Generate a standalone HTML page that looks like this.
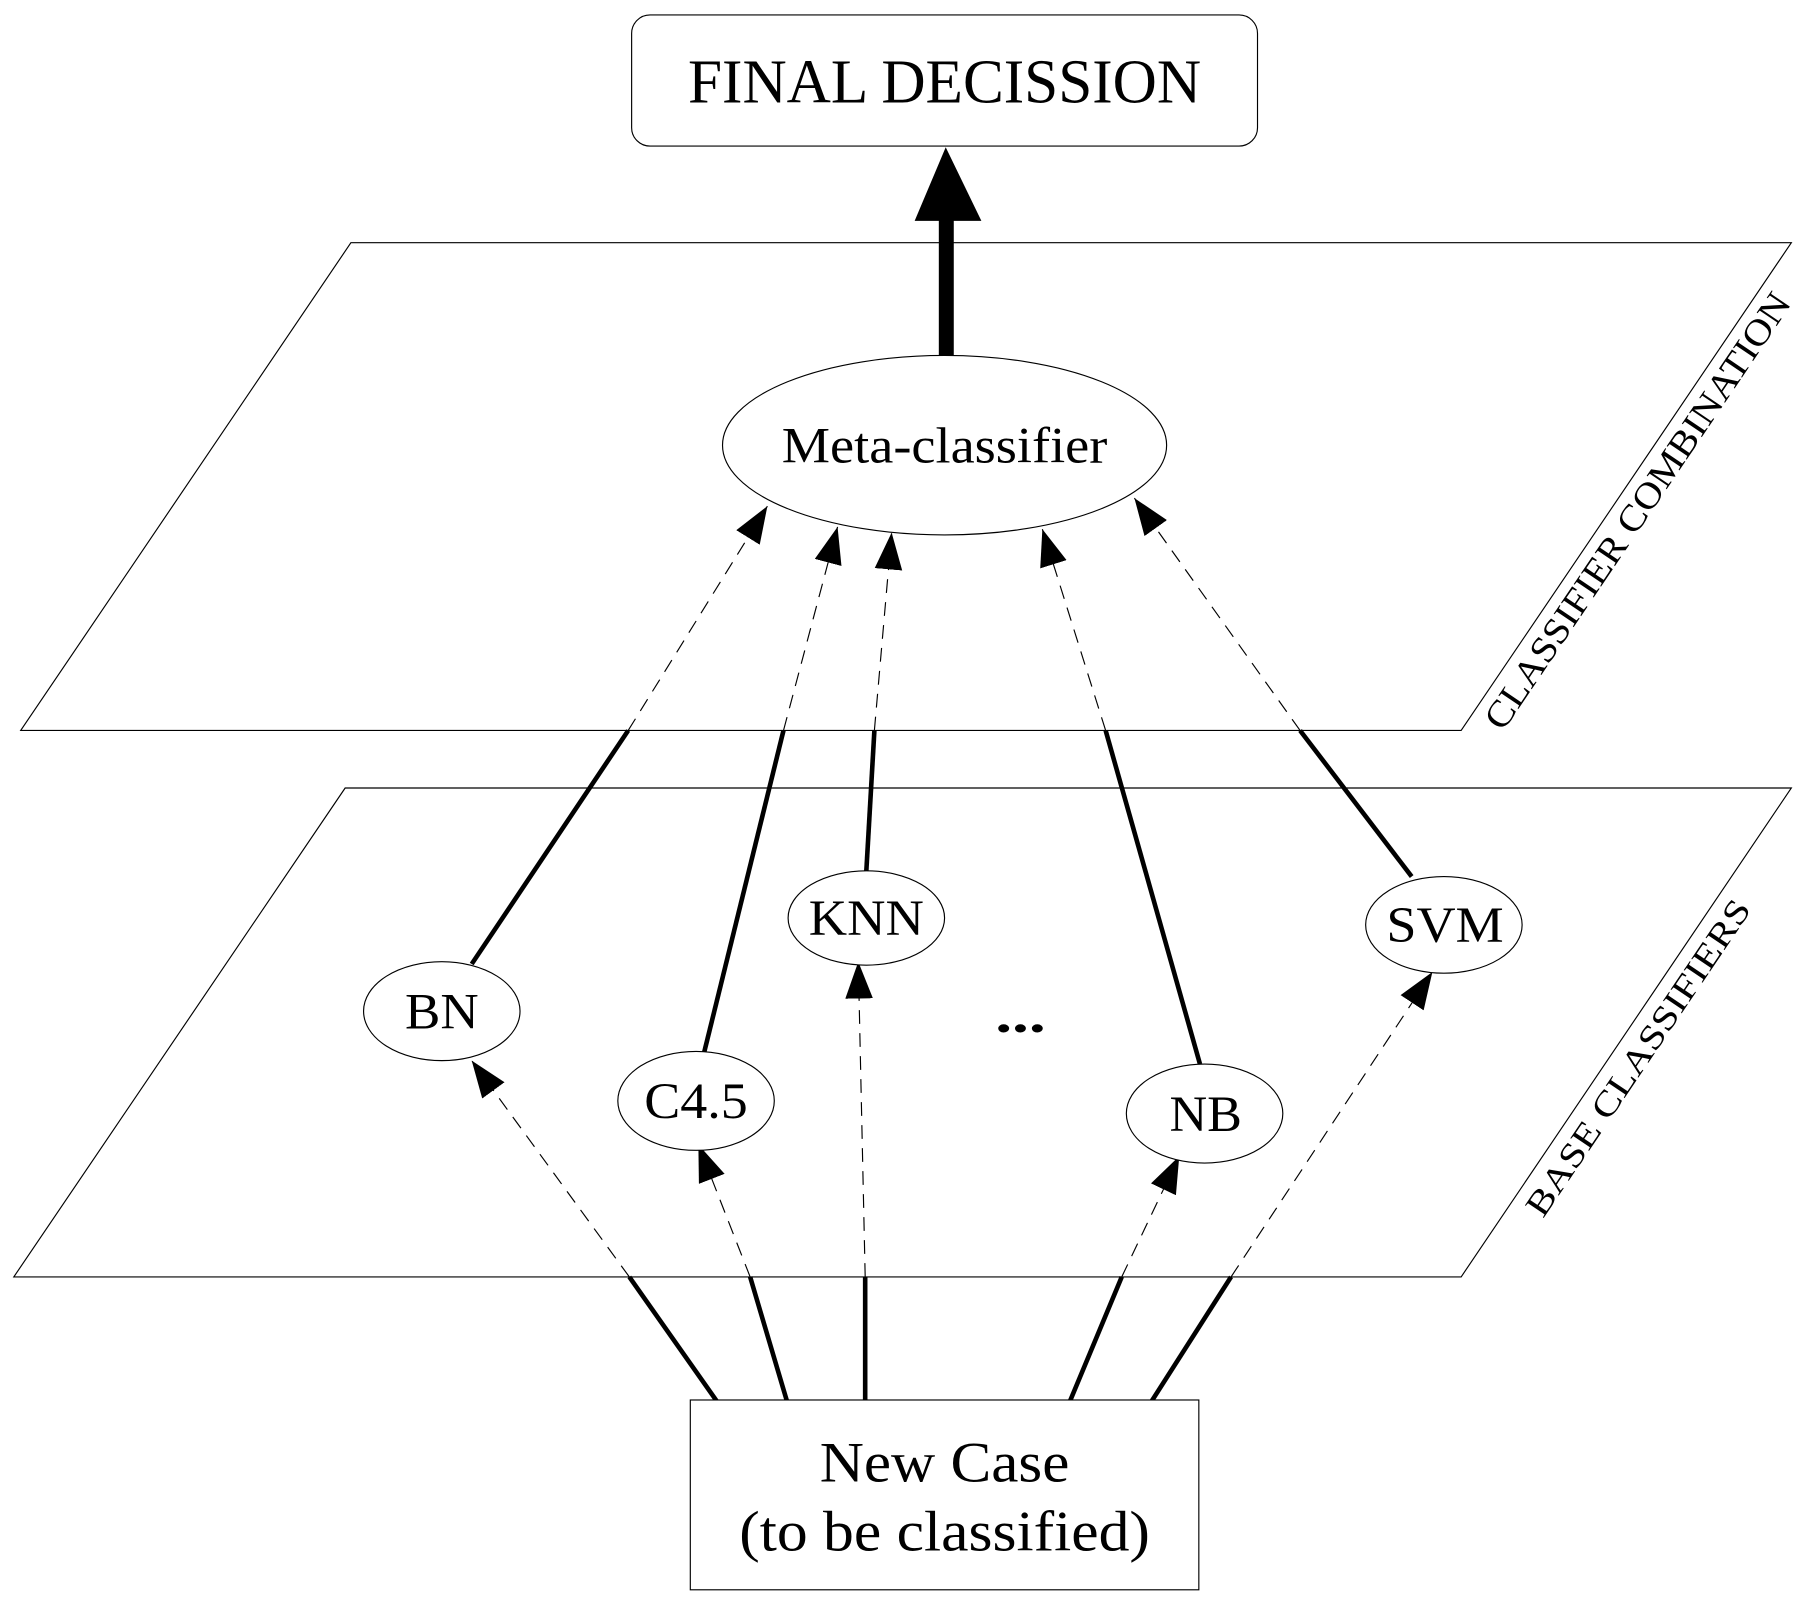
<!DOCTYPE html>
<html><head><meta charset="utf-8"><style>
html,body{margin:0;padding:0;background:#fff;}
svg{display:block;}
text{font-family:"Liberation Serif",serif;fill:#000;}
</style></head><body>
<svg width="1804" height="1599" viewBox="0 0 1568 1390" preserveAspectRatio="none" xmlns="http://www.w3.org/2000/svg">
<defs>
<marker id="ah" markerUnits="userSpaceOnUse" markerWidth="34" markerHeight="26" refX="32" refY="12" orient="auto">
<path d="M0,0 L32,12 L0,24 Z" fill="#000"/>
</marker>
</defs>
<rect width="1568" height="1390" fill="#fff"/>
<rect x="549" y="13" width="544" height="114" rx="16" fill="none" stroke="#000" stroke-width="1"/>
<text x="821" y="89" font-size="54" text-anchor="middle" textLength="446" lengthAdjust="spacingAndGlyphs">FINAL DECISSION</text>
<rect x="816" y="188" width="13" height="124" fill="#000"/>
<path d="M822,128 L853,192 L795,192 Z" fill="#000"/>
<path d="M305,211 L1557,211 L1270,635 L18,635 Z" fill="none" stroke="#000" stroke-width="1"/>
<path d="M300,685 L1557,685 L1270,1110 L12,1110 Z" fill="none" stroke="#000" stroke-width="1"/>
<text transform="translate(1432,450) rotate(-56)" font-size="32" text-anchor="middle" textLength="450" lengthAdjust="spacingAndGlyphs">CLASSIFIER COMBINATION</text>
<text transform="translate(1432,925) rotate(-56)" font-size="30" text-anchor="middle" textLength="325" lengthAdjust="spacingAndGlyphs">BASE CLASSIFIERS</text>
<ellipse cx="821" cy="387" rx="193" ry="78" fill="#fff" stroke="#000" stroke-width="1"/>
<text x="821" y="402" font-size="44" text-anchor="middle" textLength="283" lengthAdjust="spacingAndGlyphs">Meta-classifier</text>
<g stroke="#000" stroke-width="4" fill="none">
<line x1="623" y1="1218" x2="547" y2="1110"/>
<line x1="684" y1="1218" x2="652" y2="1110"/>
<line x1="752" y1="1218" x2="752" y2="1110"/>
<line x1="930" y1="1218" x2="975" y2="1110"/>
<line x1="1001" y1="1218" x2="1070" y2="1110"/>
<line x1="410" y1="838" x2="546" y2="635"/>
<line x1="612" y1="915" x2="681" y2="635"/>
<line x1="753" y1="757" x2="760" y2="635"/>
<line x1="1043" y1="925" x2="961" y2="635"/>
<line x1="1227" y1="762" x2="1130" y2="635"/>
</g>
<g stroke="#000" stroke-width="1" fill="none" stroke-dasharray="12 8" marker-end="url(#ah)">
<line x1="547" y1="1110" x2="410" y2="922"/>
<line x1="652" y1="1110" x2="607" y2="995"/>
<line x1="752" y1="1110" x2="746" y2="836"/>
<line x1="975" y1="1110" x2="1025" y2="1005"/>
<line x1="1070" y1="1110" x2="1245" y2="845"/>
<line x1="546" y1="635" x2="667" y2="440"/>
<line x1="681" y1="635" x2="728" y2="458"/>
<line x1="760" y1="635" x2="775" y2="463"/>
<line x1="961" y1="635" x2="906" y2="460"/>
<line x1="1130" y1="635" x2="986" y2="433"/>
</g>
<g fill="#fff" stroke="#000" stroke-width="1">
<ellipse cx="384" cy="879" rx="68" ry="43"/>
<ellipse cx="753" cy="798" rx="68" ry="41"/>
<ellipse cx="1255" cy="804" rx="68" ry="42"/>
<ellipse cx="605" cy="957" rx="68" ry="43"/>
<ellipse cx="1047" cy="968" rx="68" ry="43"/>
</g>
<g font-size="44" text-anchor="middle">
<text x="384" y="894" textLength="64" lengthAdjust="spacingAndGlyphs">BN</text>
<text x="753" y="813" textLength="100" lengthAdjust="spacingAndGlyphs">KNN</text>
<text x="1256" y="819" textLength="102" lengthAdjust="spacingAndGlyphs">SVM</text>
<text x="605" y="972" textLength="90" lengthAdjust="spacingAndGlyphs">C4.5</text>
<text x="1048" y="983" textLength="63" lengthAdjust="spacingAndGlyphs">NB</text>
<text x="887" y="897" font-weight="bold" textLength="44" lengthAdjust="spacingAndGlyphs">...</text>
</g>
<rect x="600" y="1217" width="442" height="165" fill="#fff" stroke="#000" stroke-width="1"/>
<text x="821" y="1288" font-size="50" text-anchor="middle" textLength="217" lengthAdjust="spacingAndGlyphs">New Case</text>
<text x="821" y="1348" font-size="50" text-anchor="middle" textLength="357" lengthAdjust="spacingAndGlyphs">(to be classified)</text>
</svg>
</body></html>
